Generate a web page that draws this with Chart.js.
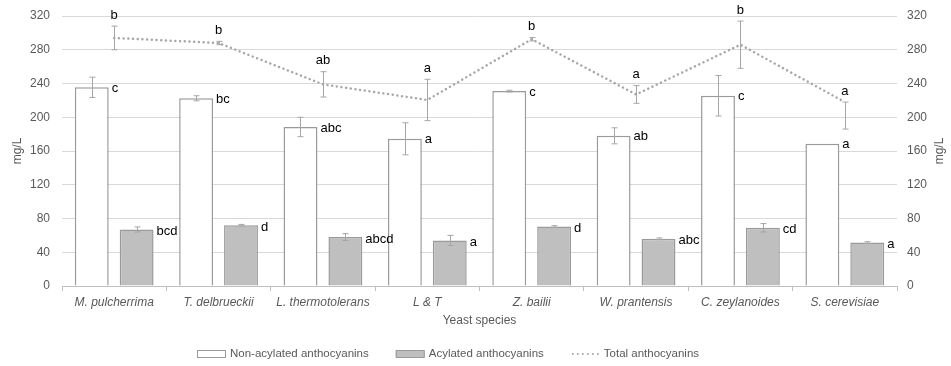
<!DOCTYPE html>
<html>
<head>
<meta charset="utf-8">
<script src="https://cdn.jsdelivr.net/npm/chart.js@4.4.0/dist/chart.umd.min.js"></script>
<style>
  html, body { margin: 0; padding: 0; background: #fff; }
</style>
</head>
<body>
<canvas id="chart" width="951" height="366"></canvas>
<script>
const species = ['M. pulcherrima', 'T. delbrueckii', 'L. thermotolerans', 'L & T',
    'Z. bailii', 'W. prantensis', 'C. zeylanoides', 'S. cerevisiae'];

const nonAcylated = [235.5, 222.5, 188.5, 174.5, 231, 178, 225.5, 168.5];
const nonAcylatedErr = [12, 3, 11.5, 19, 1, 9.5, 24, 0];
const nonAcylatedLetters = ['c', 'bc', 'abc', 'a', 'c', 'ab', 'c', 'a'];

const acylated = [67, 72, 58, 54, 70.5, 56, 69, 51.5];
const acylatedErr = [3, 1, 4, 6, 1, 1, 5, 1];
const acylatedLetters = ['bcd', 'd', 'abcd', 'a', 'd', 'abc', 'cd', 'a'];

const total = [294, 288, 239, 220.5, 292.5, 227, 286, 218];
const totalErrPlus = [14, 2, 15, 24.5, 2, 10.5, 28, 0];
const totalErrMinus = [14, 2, 15, 24.5, 2, 10.5, 28, 32];
const totalLetters = ['b', 'b', 'ab', 'a', 'b', 'a', 'b', 'a'];

const axisMin = 0;
const axisMax = 320;
const axisStep = 40;

const grey = '#595959';
const errColor = '#a6a6a6';

// error bars, significance letters, right title and legend
const extras = {
    id: 'extras',
    afterDatasetsDraw(chart) {
        const ctx = chart.ctx;
        const y = chart.scales.y;
        const y2 = chart.scales.y2;

        function errBar(x, top, bottom) {
            x = Math.round(x) + 0.5;
            ctx.beginPath();
            ctx.moveTo(x, top); ctx.lineTo(x, bottom);
            ctx.moveTo(x - 3, top); ctx.lineTo(x + 3, top);
            ctx.moveTo(x - 3, bottom); ctx.lineTo(x + 3, bottom);
            ctx.stroke();
        }

        ctx.save();
        ctx.strokeStyle = errColor;
        ctx.lineWidth = 1;
        ctx.fillStyle = '#000';
        ctx.font = '13px Arial, "Liberation Sans", sans-serif';
        ctx.textBaseline = 'middle';

        const barSets = [
            [0, nonAcylated, nonAcylatedErr, nonAcylatedLetters, 1],
            [1, acylated, acylatedErr, acylatedLetters, 2]
        ];
        barSets.forEach(([idx, vals, errs, letters, dy]) => {
            const meta = chart.getDatasetMeta(idx);
            meta.data.forEach((bar, i) => {
                if (errs[i] > 0) {
                    errBar(bar.x, y.getPixelForValue(vals[i] + errs[i]), y.getPixelForValue(vals[i] - errs[i]));
                }
                ctx.textAlign = 'left';
                ctx.fillText(letters[i], bar.x + bar.width / 2 + 3, bar.y + dy);
            });
        });

        const lineMeta = chart.getDatasetMeta(2);
        lineMeta.data.forEach((pt, i) => {
            const top = y2.getPixelForValue(total[i] + totalErrPlus[i]);
            const bottom = y2.getPixelForValue(total[i] - totalErrMinus[i]);
            errBar(pt.x, top, bottom);
            ctx.textAlign = 'center';
            ctx.fillText(totalLetters[i], pt.x, top - 11);
        });
        ctx.restore();
    },
    afterDraw(chart) {
        const ctx = chart.ctx;
        const area = chart.chartArea;
        ctx.save();

        // right axis title, rotated like the left one
        ctx.fillStyle = grey;
        ctx.font = '12px Arial, "Liberation Sans", sans-serif';
        ctx.textAlign = 'center';
        ctx.textBaseline = 'middle';
        ctx.translate(940, (area.top + area.bottom) / 2);
        ctx.rotate(-Math.PI / 2);
        ctx.fillText('mg/L', 0, 0);
        ctx.setTransform(1, 0, 0, 1, 0, 0);

        // legend
        ctx.font = '11.5px Arial, "Liberation Sans", sans-serif';
        ctx.textAlign = 'left';
        const ly = 354;
        let lx = 197;
        chart.data.datasets.forEach(ds => {
            if (ds.type === 'line') {
                ctx.strokeStyle = ds.borderColor;
                ctx.lineWidth = 2;
                ctx.lineCap = 'round';
                ctx.setLineDash([0.01, 5]);
                ctx.beginPath();
                ctx.moveTo(lx + 2, ly);
                ctx.lineTo(lx + 30, ly);
                ctx.stroke();
                ctx.setLineDash([]);
            } else {
                ctx.fillStyle = ds.backgroundColor;
                ctx.fillRect(lx, ly - 3.5, 29, 7);
                ctx.strokeStyle = ds.borderColor;
                ctx.lineWidth = 1;
                ctx.strokeRect(lx + 0.5, ly - 3.5, 28, 7);
            }
            const tx = lx + 33;
            ctx.fillStyle = grey;
            ctx.fillText(ds.label, tx, ly);
            lx = tx + ctx.measureText(ds.label).width + 27;
        });
        ctx.restore();
    }
};

new Chart(document.getElementById('chart'), {
    type: 'bar',
    data: {
        labels: species,
        datasets: [
            {
                label: 'Non-acylated anthocyanins',
                data: nonAcylated,
                backgroundColor: '#ffffff',
                borderColor: '#9a9a9a',
                borderWidth: 1.5,
                yAxisID: 'y',
                order: 1
            },
            {
                label: 'Acylated anthocyanins',
                data: acylated,
                backgroundColor: '#bfbfbf',
                borderColor: '#9a9a9a',
                borderWidth: 1.5,
                yAxisID: 'y',
                order: 1
            },
            {
                type: 'line',
                label: 'Total anthocyanins',
                data: total,
                yAxisID: 'y2',
                borderColor: '#a6a6a6',
                borderWidth: 2.5,
                borderDash: [0.01, 4.7],
                borderCapStyle: 'round',
                pointRadius: 0,
                tension: 0,
                fill: false,
                order: 0
            }
        ]
    },
    options: {
        responsive: false,
        animation: false,
        categoryPercentage: 0.86,
        barPercentage: 0.755,
        layout: { padding: { top: 16, bottom: 35, left: 0, right: 0 } },
        plugins: {
            legend: { display: false },
            tooltip: { enabled: false }
        },
        scales: {
            x: {
                grid: { display: true, drawOnChartArea: false, drawTicks: true, tickLength: 5, color: '#bfbfbf', offset: true },
                border: { color: '#bfbfbf' },
                ticks: {
                    color: grey,
                    font: { family: 'Arial, "Liberation Sans", sans-serif', size: 12, style: 'italic' },
                    padding: 4,
                    maxRotation: 0,
                    autoSkip: false
                },
                title: {
                    display: true,
                    text: 'Yeast species',
                    color: grey,
                    font: { family: 'Arial, "Liberation Sans", sans-serif', size: 12 },
                    padding: { top: 2, bottom: 3 }
                },
                afterFit(scale) { scale.height = 45; }
            },
            y: {
                position: 'left',
                min: axisMin,
                max: axisMax,
                ticks: {
                    stepSize: axisStep,
                    color: grey,
                    font: { family: 'Arial, "Liberation Sans", sans-serif', size: 12 },
                    padding: 8
                },
                grid: { color: '#d9d9d9', drawTicks: true, tickLength: 4, tickColor: 'rgba(0,0,0,0)' },
                border: { display: false },
                title: {
                    display: true,
                    text: 'mg/L',
                    color: grey,
                    font: { family: 'Arial, "Liberation Sans", sans-serif', size: 12 },
                    padding: { top: 10, bottom: 0 }
                },
                afterFit(scale) { scale.width = 62; }
            },
            y2: {
                position: 'right',
                min: axisMin,
                max: axisMax,
                ticks: {
                    stepSize: axisStep,
                    color: grey,
                    font: { family: 'Arial, "Liberation Sans", sans-serif', size: 12 },
                    padding: 6
                },
                grid: { drawOnChartArea: false, drawTicks: true, tickLength: 4, tickColor: 'rgba(0,0,0,0)' },
                border: { display: false },
                afterFit(scale) { scale.width = 54; }
            }
        }
    },
    plugins: [extras]
});
</script>
</body>
</html>
